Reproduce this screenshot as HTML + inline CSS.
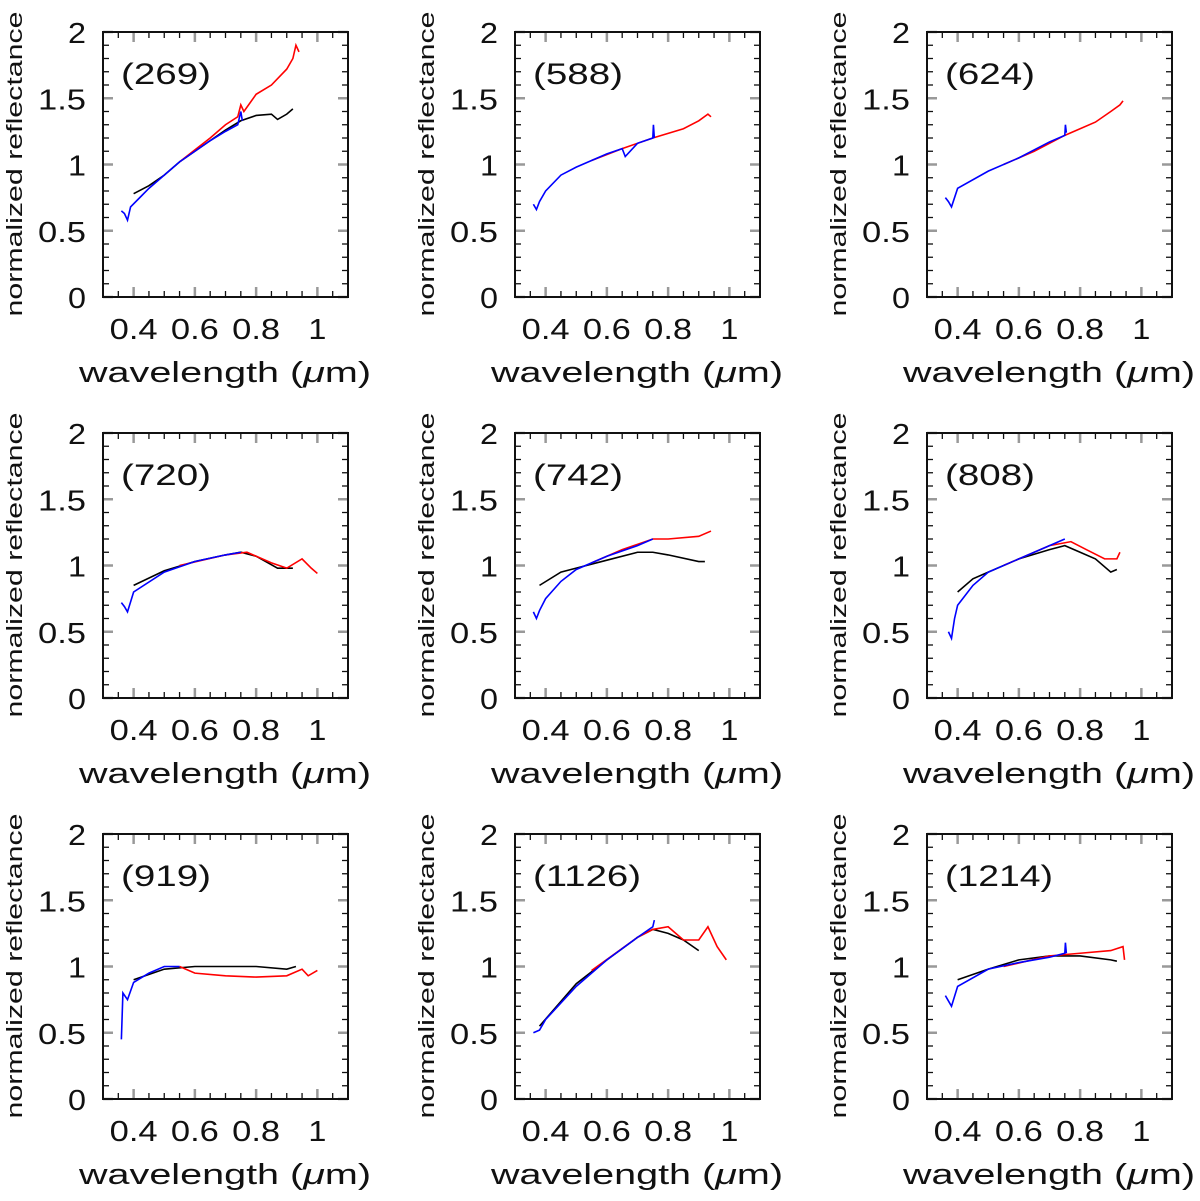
<!DOCTYPE html>
<html><head><meta charset="utf-8"><style>
body{margin:0;background:#fff;}
svg text{font-family:"Liberation Sans",sans-serif;fill:#111;}
</style></head><body>
<svg id="s" width="1200" height="1196" xmlns="http://www.w3.org/2000/svg"></svg>
<script>
const names=["269","588","624","720","742","808","919","1126","1214"];
const blueX=[
[0.36,0.37,0.38,0.39,0.42,0.45,0.5,0.55,0.6,0.65,0.7,0.74,0.75,0.755],
[0.36,0.37,0.38,0.4,0.45,0.5,0.6,0.65,0.66,0.7,0.75,0.752,0.755],
[0.36,0.37,0.38,0.4,0.5,0.6,0.7,0.75,0.752,0.755],
[0.36,0.37,0.38,0.4,0.5,0.6,0.7,0.75],
[0.36,0.37,0.38,0.4,0.45,0.5,0.6,0.7,0.75],
[0.37,0.38,0.39,0.4,0.45,0.5,0.6,0.7,0.75],
[0.36,0.365,0.38,0.4,0.45,0.5,0.55],
[0.36,0.38,0.4,0.5,0.6,0.7,0.75,0.755],
[0.36,0.37,0.38,0.4,0.5,0.6,0.7,0.75,0.752,0.755]];
const blueY=[
[0.65,0.63,0.58,0.68,0.75,0.82,0.92,1.02,1.1,1.18,1.25,1.3,1.4,1.33],
[0.7,0.66,0.72,0.8,0.92,0.98,1.08,1.12,1.06,1.16,1.2,1.3,1.2],
[0.75,0.72,0.68,0.82,0.95,1.05,1.17,1.22,1.3,1.24],
[0.72,0.69,0.65,0.8,0.95,1.03,1.08,1.1],
[0.65,0.6,0.66,0.75,0.88,0.97,1.07,1.15,1.2],
[0.5,0.45,0.6,0.7,0.85,0.95,1.05,1.15,1.2],
[0.45,0.8,0.75,0.88,0.95,1.0,1.0],
[0.5,0.52,0.6,0.85,1.05,1.22,1.3,1.35],
[0.78,0.74,0.7,0.85,0.98,1.03,1.07,1.1,1.18,1.1]];
const redX=[
[0.55,0.6,0.65,0.7,0.74,0.75,0.76,0.8,0.85,0.9,0.92,0.93,0.94],
[0.55,0.65,0.75,0.85,0.9,0.93,0.94],
[0.55,0.65,0.75,0.85,0.9,0.93,0.94],
[0.55,0.7,0.77,0.85,0.9,0.95,0.98,1.0],
[0.55,0.65,0.75,0.8,0.9,0.94],
[0.55,0.7,0.77,0.82,0.88,0.92,0.93],
[0.55,0.6,0.7,0.8,0.9,0.95,0.97,1.0],
[0.55,0.7,0.75,0.8,0.85,0.9,0.93,0.96,0.99],
[0.55,0.7,0.8,0.9,0.94,0.945]];
const redY=[
[1.02,1.11,1.2,1.3,1.36,1.45,1.4,1.53,1.6,1.72,1.8,1.9,1.85],
[1.03,1.12,1.2,1.27,1.33,1.38,1.36],
[1.0,1.1,1.22,1.32,1.4,1.45,1.48],
[1.0,1.08,1.1,1.02,0.98,1.05,0.98,0.94],
[1.02,1.12,1.2,1.2,1.22,1.26],
[1.0,1.15,1.18,1.12,1.05,1.05,1.1],
[1.0,0.95,0.93,0.92,0.93,0.98,0.93,0.97],
[0.97,1.22,1.28,1.3,1.2,1.2,1.3,1.15,1.05],
[1.0,1.08,1.1,1.12,1.15,1.05]];
const blackX=[
[0.4,0.45,0.5,0.55,0.6,0.65,0.7,0.75,0.8,0.85,0.87,0.9,0.92],
[],[],
[0.4,0.5,0.6,0.7,0.75,0.8,0.87,0.92],
[0.38,0.45,0.5,0.6,0.7,0.75,0.8,0.9,0.92],
[0.4,0.45,0.5,0.6,0.7,0.75,0.8,0.85,0.9,0.92],
[0.4,0.5,0.6,0.7,0.8,0.9,0.93],
[0.38,0.5,0.6,0.7,0.75,0.8,0.85,0.9],
[0.4,0.5,0.6,0.7,0.8,0.9,0.92]];
const blackY=[
[0.78,0.84,0.92,1.02,1.1,1.18,1.26,1.33,1.37,1.38,1.34,1.38,1.42],
[],[],
[0.85,0.96,1.03,1.08,1.1,1.07,0.98,0.98],
[0.85,0.95,0.98,1.04,1.1,1.1,1.08,1.03,1.03],
[0.8,0.9,0.95,1.05,1.12,1.15,1.1,1.05,0.95,0.97],
[0.9,0.98,1.0,1.0,1.0,0.98,1.0],
[0.55,0.87,1.05,1.22,1.28,1.25,1.2,1.12],
[0.9,0.98,1.05,1.08,1.08,1.05,1.04]];
const xTicks=["0.4","0.6","0.8","1"];
const yTicks=["0","0.5","1","1.5","2"];

const svg=document.getElementById('s');
const NS="http://www.w3.org/2000/svg";
function mk(t,a,p){const e=document.createElementNS(NS,t);for(const k in a)e.setAttribute(k,a[k]);(p||svg).appendChild(e);return e;}
const W=245,H=265;
for(let i=0;i<9;i++){
  const ox=103+(i%3)*412, oy=32+Math.floor(i/3)*401;
  const g=mk('g',{});
  
  
  const sx=v=>ox+(v-0.3)/0.8*W, sy=v=>oy+H-v/2*H;
  for(let k=0;k<=16;k++){const v=0.3+k*0.05;const x=sx(v);
    const mj=[0.4,0.6,0.8,1.0].some(m=>Math.abs(m-v)<1e-6);
    const L=mj?10:6,c=mj?'#999':'#111',w=mj?2.5:1.3;
    mk('line',{x1:x,x2:x,y1:oy+H,y2:oy+H-L,stroke:c,'stroke-width':w},g);
    mk('line',{x1:x,x2:x,y1:oy,y2:oy+L,stroke:c,'stroke-width':w},g);}
  for(let k=0;k<=20;k++){const v=k*0.1;const y=sy(v);const mj=k%5==0;
    const L=mj?10:6,c=mj?'#999':'#111',w=mj?2.5:1.3;
    mk('line',{x1:ox,x2:ox+L,y1:y,y2:y,stroke:c,'stroke-width':w},g);
    mk('line',{x1:ox+W,x2:ox+W-L,y1:y,y2:y,stroke:c,'stroke-width':w},g);}
  const fr=mk('rect',{x:ox,y:oy,width:W,height:H,fill:'none',stroke:'#111','stroke-width':2},g);
  
  
  xTicks.forEach(t=>{const e=mk('text',{x:sx(parseFloat(t)),y:oy+H+42,'text-anchor':'middle','font-size':29,textLength:t.length>1?48:18,lengthAdjust:'spacingAndGlyphs'},g);e.textContent=t;
    });
  yTicks.forEach(t=>{const e=mk('text',{x:ox-17,y:sy(parseFloat(t))+11,'text-anchor':'end','font-size':29,textLength:t.length>1?48:18,lengthAdjust:'spacingAndGlyphs'},g);e.textContent=t;
    });
  const xt=mk('text',{x:ox+122,y:oy+H+85,'text-anchor':'middle','font-size':29,textLength:292,lengthAdjust:'spacingAndGlyphs'},g);
  xt.innerHTML='wavelength (<tspan font-style="italic">μ</tspan>m)';
  
  const yt=mk('text',{x:0,y:0,'text-anchor':'middle','font-size':22,textLength:305,lengthAdjust:'spacingAndGlyphs',transform:`translate(${ox-81},${oy+132}) rotate(-90)`},g);
  yt.textContent='normalized reflectance';
  
  const lb=mk('text',{x:ox+18,y:oy+52,'font-size':30,textLength:(names[i].length+2)*18,lengthAdjust:'spacingAndGlyphs'},g);lb.textContent='('+names[i]+')';
  
  const ser=[[blackX[i],blackY[i],'#000'],[redX[i],redY[i],'#f00'],[blueX[i],blueY[i],'#00f']];
  ser.forEach(([xs,ys,c],j)=>{if(!xs.length)return;
    const p=mk('polyline',{points:xs.map((x,k)=>sx(x)+','+sy(ys[k])).join(' '),fill:'none',stroke:c,'stroke-width':1.6},g);
    
    });
}
</script>
</body></html>
